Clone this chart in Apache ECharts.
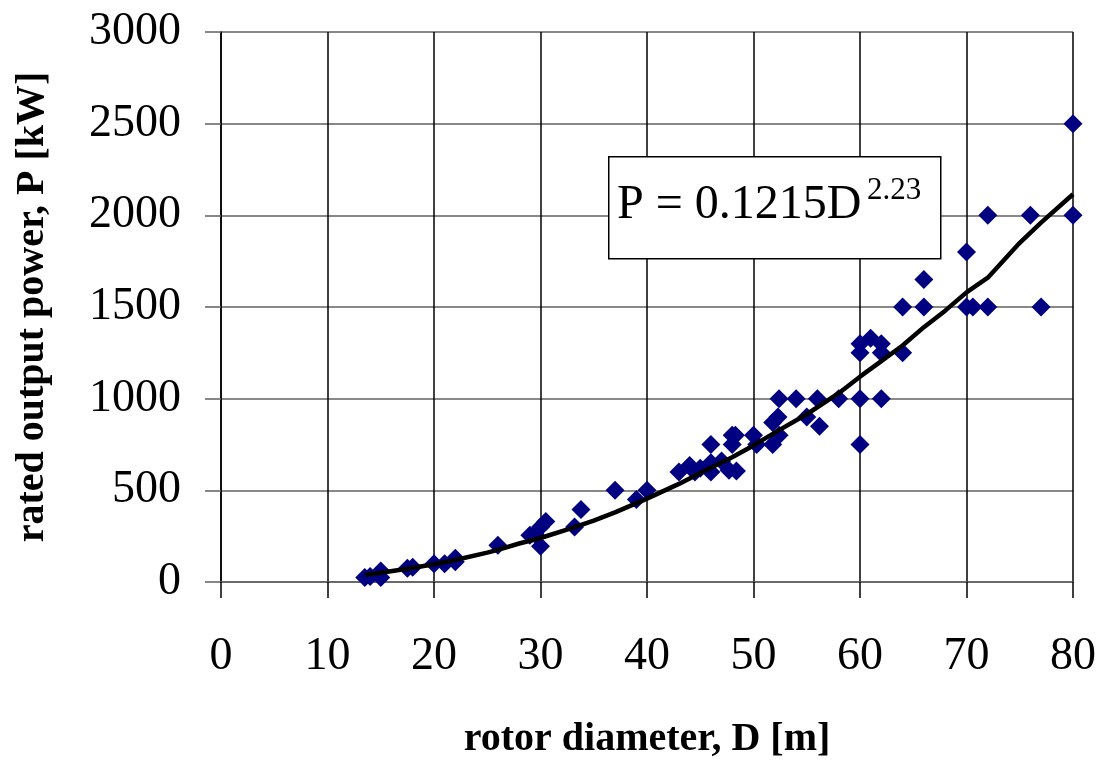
<!DOCTYPE html>
<html>
<head>
<meta charset="utf-8">
<script src="https://cdn.jsdelivr.net/npm/echarts@6/dist/echarts.min.js"></script>
<style>
  html, body { margin: 0; padding: 0; background: #fff; }
  #chart { width: 1101px; height: 765px; }
</style>
</head>
<body>
<div id="chart"></div>
<script>
// measured turbines: rotor diameter [m] and rated power [kW]
const rotorD = [13.5, 14, 15, 15, 17.5, 18, 20, 21, 22, 22, 26, 29, 29.5, 30, 30.5, 30,
  33.2, 33.8, 37, 39, 40, 43, 44, 44.5, 45, 46, 46, 46, 47, 48, 48.3, 48, 47.7, 48.4,
  50, 50.3, 51.8, 51.8, 52.4, 52.3, 52.4, 54, 56, 58, 60, 62, 55, 56.2, 60, 60, 61, 62,
  60, 62, 64, 64, 66, 66, 70, 70.6, 72, 77, 70, 72, 76, 80, 80]
const ratedP = [25, 30, 60, 25, 75, 80, 100, 100, 130, 110, 200, 255, 260, 300, 330, 195,
  300, 395, 500, 450, 500, 600, 635, 600, 620, 750, 650, 600, 660, 800, 800, 750, 610, 605,
  800, 750, 750, 870, 800, 900, 1000, 1000, 1000, 1000, 1000, 1000, 900, 850, 750, 1300, 1330, 1300,
  1250, 1250, 1250, 1500, 1650, 1500, 1800, 1500, 1500, 1500, 1500, 2000, 2000, 2000, 2500]

// fitted curve
const fitD = [13.5, 15, 17.5, 20, 22, 25, 26, 28, 30, 33, 35, 37, 40, 43, 45, 48, 50, 52,
  55, 58, 60, 62, 64, 66, 68, 70, 72, 75, 77, 80]
const fitP = [40, 50, 72, 97, 120, 160, 175, 210, 240, 295, 335, 380, 455, 535, 595, 680,
  745, 815, 915, 1030, 1120, 1205, 1290, 1390, 1480, 1580, 1660, 1850, 1960, 2115]

const xTicks = { min: 0, max: 80, interval: 10 }
const yTicks = { min: 0, max: 3000, interval: 500 }

const fontFamily = '"Liberation Serif", "Times New Roman", serif'

const chart = echarts.init(document.getElementById('chart'))

chart.setOption({
  animation: false,
  textStyle: { fontFamily: fontFamily },
  grid: {
    left: 221,
    right: 28,
    top: 32,
    bottom: 181
  },
  xAxis: {
    type: 'value',
    min: xTicks.min,
    max: xTicks.max,
    interval: xTicks.interval,
    name: 'rotor diameter, D [m]',
    nameLocation: 'middle',
    nameGap: 138,
    nameTextStyle: { fontSize: 40, fontWeight: 'bold', color: '#000', fontFamily: fontFamily },
    axisLine: { show: true, lineStyle: { color: '#606060', width: 1.5 } },
    axisTick: { show: true, length: 16, lineStyle: { color: '#000', width: 1.5 } },
    axisLabel: { fontSize: 46, color: '#000', margin: 52, fontFamily: fontFamily },
    splitLine: { show: true, lineStyle: { color: '#000', width: 1.5 } }
  },
  yAxis: {
    type: 'value',
    min: yTicks.min,
    max: yTicks.max,
    interval: yTicks.interval,
    name: 'rated output power, P [kW]',
    nameLocation: 'middle',
    nameGap: 168,
    nameTextStyle: { fontSize: 40, fontWeight: 'bold', color: '#000', fontFamily: fontFamily },
    axisLine: { show: true, lineStyle: { color: '#000', width: 1.5 } },
    axisTick: { show: true, length: 16, lineStyle: { color: '#606060', width: 1.5 } },
    axisLabel: { fontSize: 46, color: '#000', margin: 40, fontFamily: fontFamily, formatter: v => String(v) },
    splitLine: { show: true, lineStyle: { color: '#606060', width: 1.5 } }
  },
  graphic: [
    {
      type: 'rect',
      left: 608,
      top: 156,
      shape: { width: 332, height: 102 },
      style: { fill: '#fff', stroke: '#000', lineWidth: 1.5 },
      z: 100
    },
    {
      type: 'text',
      left: 617,
      top: 181,
      style: { text: 'P = 0.1215D', font: '48px ' + fontFamily, fill: '#000' },
      z: 101
    },
    {
      type: 'text',
      left: 867,
      top: 175,
      style: { text: '2.23', font: '31px ' + fontFamily, fill: '#000' },
      z: 101
    }
  ],
  series: [
    {
      name: 'data',
      type: 'scatter',
      symbol: 'diamond',
      symbolSize: 19,
      itemStyle: { color: '#000080', opacity: 1 },
      data: rotorD.map((d, i) => [d, ratedP[i]]),
      z: 3
    },
    {
      name: 'fit',
      type: 'line',
      showSymbol: false,
      symbol: 'none',
      lineStyle: { color: '#000', width: 4.5 },
      data: fitD.map((d, i) => [d, fitP[i]]),
      z: 4
    }
  ]
})
</script>
</body>
</html>
